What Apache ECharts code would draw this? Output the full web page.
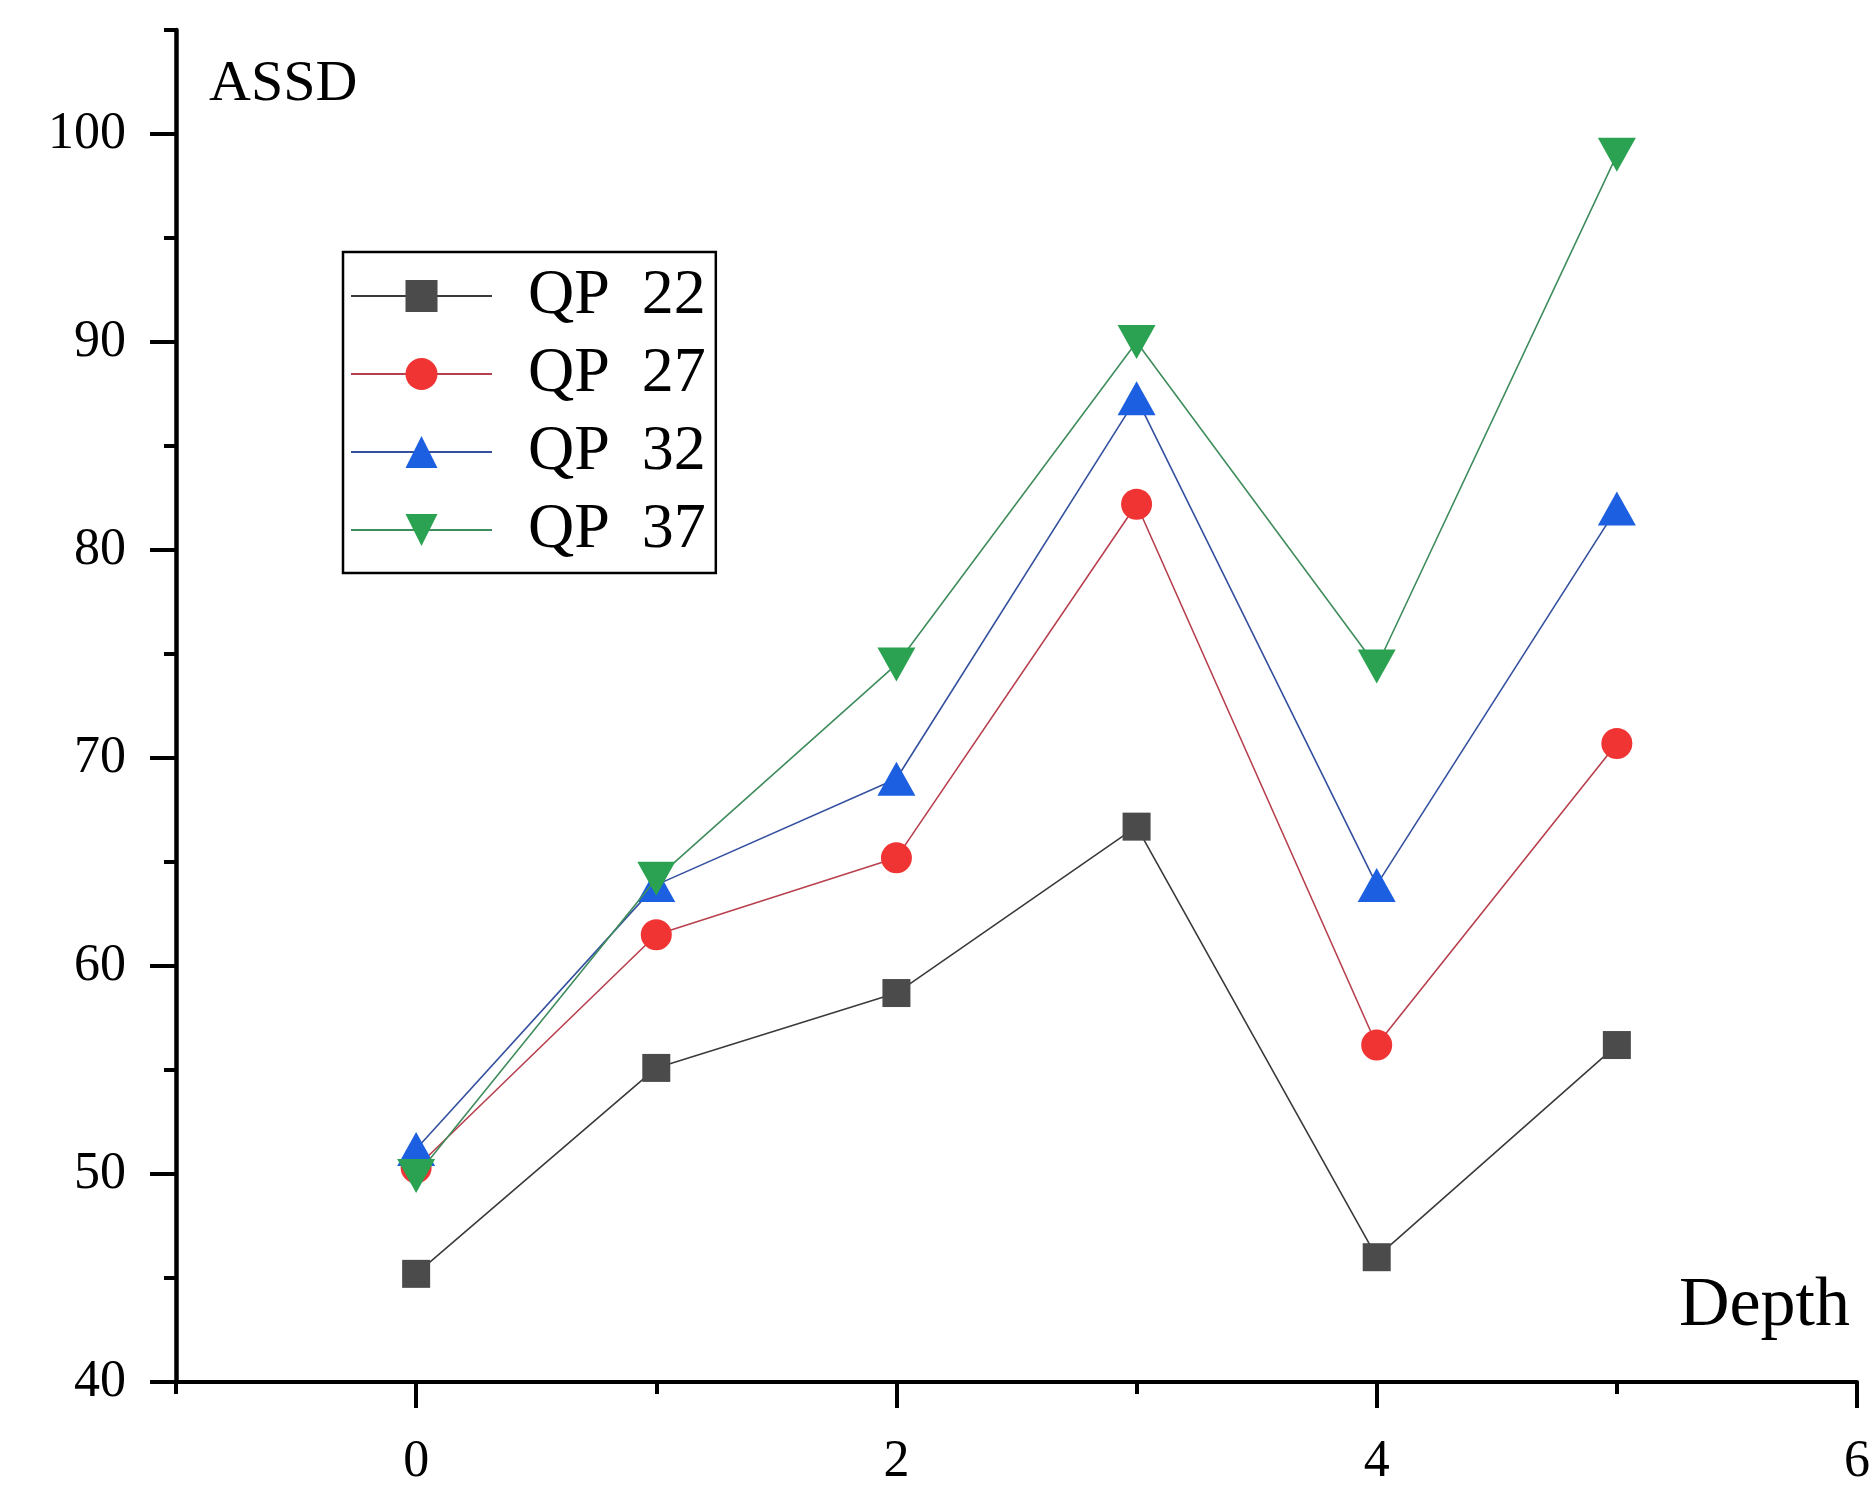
<!DOCTYPE html>
<html><head><meta charset="utf-8">
<script src="https://cdn.jsdelivr.net/npm/echarts@6/dist/echarts.min.js"></script>
<style>html,body{margin:0;padding:0;background:#fff}#c{width:1873px;height:1488px}</style>
</head><body><div id="c"></div>
<script>
const depths = [0, 1, 2, 3, 4, 5];
const seriesNames = ['QP 22', 'QP 27', 'QP 32', 'QP 37'];
const qp22 = [45.2, 55.1, 58.7, 66.7, 46.0, 56.2];
const qp27 = [50.3, 61.5, 65.2, 82.2, 56.2, 70.7];
const qp32 = [51.2, 63.9, 69.0, 87.3, 63.9, 82.0];
const qp37 = [49.9, 64.2, 74.5, 90.0, 74.4, 99.0];
const xMajorTicks = [0, 2, 4, 6];
const xMinorTicks = [-1, 1, 3, 5];
const yMajorTicks = [40, 50, 60, 70, 80, 90, 100];
const yMinorTicks = [45, 55, 65, 75, 85, 95, 105];
const xTitle = 'Depth';
const yTitle = 'ASSD';

const FONT = 'Liberation Serif';
const pair = vals => depths.map((d, i) => [d, vals[i]]);

const styles = [
  {symbol: 'rect', size: 28, rotate: 0, marker: '#4b4b4b', line: '#3a3a3a'},
  {symbol: 'circle', size: 31, rotate: 0, marker: '#f03434', line: '#b8404e'},
  {symbol: 'triangle', size: [38, 34], rotate: 0, marker: '#1c5fe0', line: '#34509e'},
  {symbol: 'triangle', size: [38, 34], rotate: 180, marker: '#2aa252', line: '#3f8c5c'}
];
const values = [qp22, qp27, qp32, qp37];

const chart = echarts.init(document.getElementById('c'), null, {renderer: 'canvas'});
chart.setOption({
  backgroundColor: '#ffffff',
  animation: false,
  grid: {left: 176, right: 15, top: 30, bottom: 98, containLabel: false},
  xAxis: [{
    type: 'value', min: -1, max: 6,
    name: xTitle, nameLocation: 'end', nameGap: -7,
    nameTextStyle: {fontFamily: FONT, fontSize: 70, color: '#000', align: 'right', verticalAlign: 'bottom', padding: [0, 0, 40, 0]},
    axisLine: {show: true, onZero: false, lineStyle: {color: '#000', width: 4}},
    axisTick: {show: true, customValues: xMajorTicks, length: 26, lineStyle: {color: '#000', width: 4}},
    axisLabel: {show: true, customValues: xMajorTicks, margin: 54, fontFamily: FONT, fontSize: 52, color: '#000'},
    splitLine: {show: false}
  }, {
    type: 'value', min: -1, max: 6, position: 'bottom', offset: 0,
    axisLine: {show: false, onZero: false},
    axisTick: {show: true, customValues: xMinorTicks, length: 12, lineStyle: {color: '#000', width: 4}},
    axisLabel: {show: false},
    splitLine: {show: false}
  }],
  yAxis: [{
    type: 'value', min: 40, max: 105,
    name: yTitle, nameLocation: 'end', nameGap: -55,
    nameTextStyle: {fontFamily: FONT, fontSize: 58, color: '#000', align: 'left', verticalAlign: 'middle', padding: [0, 0, 0, 33]},
    axisLine: {show: true, onZero: false, lineStyle: {color: '#000', width: 4.5}},
    axisTick: {show: true, customValues: yMajorTicks, length: 26, lineStyle: {color: '#000', width: 4}},
    axisLabel: {show: true, customValues: yMajorTicks, margin: 50, fontFamily: FONT, fontSize: 52, color: '#000'},
    splitLine: {show: false}
  }, {
    type: 'value', min: 40, max: 105, position: 'left', offset: 0,
    axisLine: {show: false, onZero: false},
    axisTick: {show: true, customValues: yMinorTicks, length: 12, lineStyle: {color: '#000', width: 4}},
    axisLabel: {show: false},
    splitLine: {show: false}
  }],
  legend: {
    orient: 'vertical', left: 343, top: 252,
    padding: [9, 10, 8, 7],
    itemWidth: 141, itemHeight: 40, itemGap: 8,
    borderColor: '#000', borderWidth: 2.5, backgroundColor: '#fff',
    textStyle: {fontFamily: FONT, fontSize: 64, color: '#000', lineHeight: 70, padding: [0, 0, 0, 31]},
    formatter: n => n.replace(' ', '  '),
    data: seriesNames
  },
  series: seriesNames.map((name, i) => ({
    name: name, type: 'line', xAxisIndex: 0, yAxisIndex: 0,
    data: pair(values[i]),
    symbol: styles[i].symbol, symbolSize: styles[i].size, symbolRotate: styles[i].rotate,
    showAllSymbol: true,
    itemStyle: {color: styles[i].marker, borderWidth: 0},
    lineStyle: {color: styles[i].line, width: 1.6},
    emphasis: {disabled: true},
    z: 2 + i
  }))
});
</script></body></html>
